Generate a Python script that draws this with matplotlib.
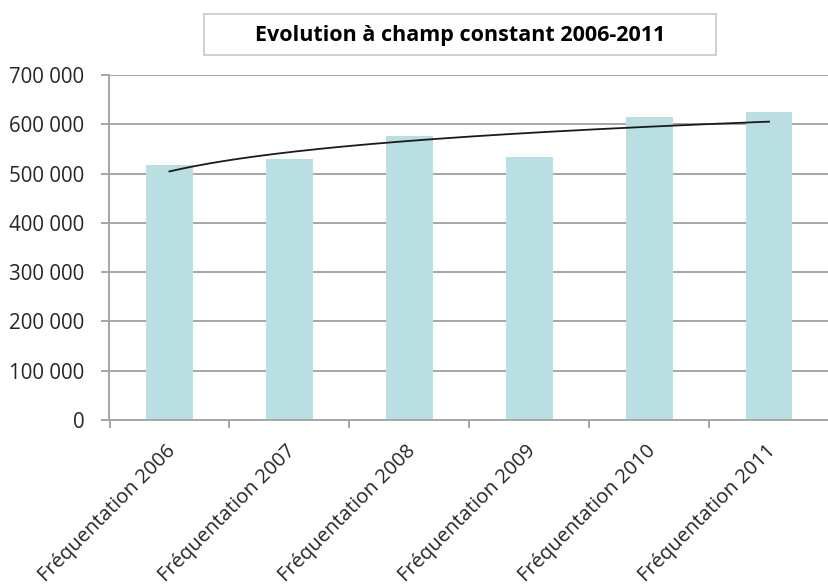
import numpy as np
import matplotlib
matplotlib.use("Agg")
import matplotlib.pyplot as plt
from matplotlib.ticker import FuncFormatter
from matplotlib.patches import Rectangle

categories = ["Fréquentation 2006", "Fréquentation 2007", "Fréquentation 2008",
              "Fréquentation 2009", "Fréquentation 2010", "Fréquentation 2011"]
values = [518000, 530000, 576000, 533000, 615000, 625000]
title = "Evolution à champ constant 2006-2011"

plt.rcParams['font.family'] = ['Open Sans', 'DejaVu Sans']

W, H = 829, 586
fig = plt.figure(figsize=(W / 100, H / 100), dpi=100)
left_px, right_px, top_px, bottom_px = 109.5, 829, 75, 420
ax = fig.add_axes([left_px / W, 1 - bottom_px / H, (right_px - left_px) / W, (bottom_px - top_px) / H])

x = np.arange(len(categories))
ax.bar(x, values, width=0.39, color='#b9dfe2', zorder=2)

# logarithmic trend line (least-squares fit on ln(x))
xi = np.arange(1, len(values) + 1)
b, a = np.polyfit(np.log(xi), values, 1)
xt = np.linspace(1, len(values), 200)
ax.plot(xt - 1, a + b * np.log(xt), color='#1a1a1a', lw=1.3, zorder=3)

ax.set_ylim(0, 700000)
ax.set_yticks(np.arange(0, 700001, 100000))
ax.yaxis.set_major_formatter(FuncFormatter(lambda v, p: f"{int(v):,}".replace(",", " ")))
ax.set_xlim(-0.5, -0.5 + 6 * (right_px - left_px) / (839 - left_px))

ax.yaxis.grid(True, color='#a6a6a6', lw=1.4, zorder=0)
ax.set_axisbelow(True)
for s in ['top', 'right']:
    ax.spines[s].set_visible(False)
for s in ['left', 'bottom']:
    ax.spines[s].set_color('#a6a6a6')
    ax.spines[s].set_linewidth(1.4)

ax.tick_params(axis='y', length=6, width=1.4, color='#a6a6a6', labelsize=14.8, pad=12, labelcolor='#262626')
ax.set_xticks(np.arange(-0.5, 6, 1), minor=False)
ax.set_xticklabels([])
ax.tick_params(axis='x', which='major', length=6, width=1.4, color='#a6a6a6')
ax.set_xticks(x - 0.03, minor=True)
ax.set_xticklabels(categories, minor=True, rotation=45, ha='right', rotation_mode='anchor',
                   fontsize=14.5, color='#262626')
ax.tick_params(axis='x', which='minor', length=0, pad=15)

fig.text(460 / W, 1 - 35 / H, title, ha='center', va='center', fontsize=15.5, fontweight='bold',
         color='black')

fig.patches.append(Rectangle((204 / W, 1 - 54.5 / H), (716 - 204) / W, 40 / H,
                             transform=fig.transFigure, fill=False, ec='#c8c8c8', lw=1.2))

fig.savefig("out.png", dpi=100)
